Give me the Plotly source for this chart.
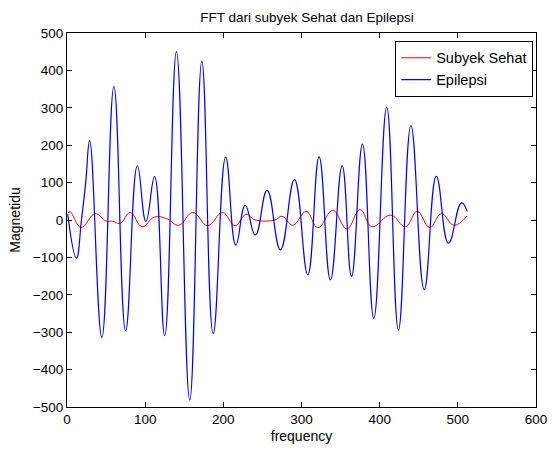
import plotly.graph_objects as go

# Epilepsi (blue) - extrema
epi_x = [1, 12, 18.5, 24, 29, 44.6, 60, 75, 90, 101, 112, 125, 140, 157, 172.5, 187, 203, 216, 228, 241, 256, 273, 291, 308, 322.5, 337, 352, 364, 378, 392.5, 409, 424, 440, 457, 472.5, 488, 504.6, 512]
epi_y = [15, -102, 0, 102, 212, -314, 357, -296, 145, -4, 116, -309, 450, -482, 424, -304, 168, -67, 39, -40, 79, -80, 108, -146, 169, -160, 145, -151, 203, -263, 302, -294, 252, -186, 117, -62, 46, 23]

# Subyek Sehat (red)
seh_x = [1, 4, 18, 36, 50, 58, 68, 81, 96, 112, 127, 143, 161, 180, 199, 215, 229, 241, 266, 275, 289, 306, 321, 340, 358, 375, 390, 414, 433, 448, 464, 479, 495, 512]
seh_y = [18, 22, -20, 17, -3, -3, -9, 20, -18, 8, 4, -14, 20, -15, 20, -15, 15, 0, 0, 10, -14, 23, -21, 26, -24, 28, -18, 13, -18, 23, -20, 17, -14, 11]

fig = go.Figure()
fig.add_trace(go.Scatter(x=seh_x, y=seh_y, mode="lines", name="Subyek Sehat",
                         line=dict(color="#ff0000", width=1, shape="spline", smoothing=1.2)))
fig.add_trace(go.Scatter(x=epi_x, y=epi_y, mode="lines", name="Epilepsi",
                         line=dict(color="#0000ff", width=1.2, shape="spline", smoothing=1.3)))

font = "Liberation Sans, Arial, sans-serif"
axis_common = dict(showgrid=False, zeroline=False, showline=True, linecolor="black", linewidth=1,
                   mirror="ticks", ticks="inside", ticklen=5, tickcolor="black",
                   tickfont=dict(family=font, size=13.5, color="black"))
fig.update_layout(
    width=559, height=453,
    margin=dict(l=67, r=12, t=33, b=43),
    paper_bgcolor="white", plot_bgcolor="white",
    title=dict(text="FFT dari subyek Sehat dan Epilepsi", x=(67 + 547) / 2 / 559, xanchor="center",
               y=1 - 17 / 453, yanchor="middle", font=dict(family=font, size=13.5, color="black")),
    xaxis=dict(range=[0, 600], tickvals=[0, 100, 200, 300, 400, 500, 600],
               title=dict(text="frequency", font=dict(family=font, size=14, color="black"), standoff=4),
               **axis_common),
    yaxis=dict(range=[-500, 500], tickvals=list(range(-500, 501, 100)),
               title=dict(text="Magnetidu", font=dict(family=font, size=14, color="black"), standoff=8),
               **axis_common),
    legend=dict(x=0.994, y=0.979, xanchor="right", yanchor="top", bgcolor="white",
                bordercolor="black", borderwidth=1, font=dict(family=font, size=14.5, color="black"),
                tracegroupgap=0),
    showlegend=True,
)
fig.write_html("out.html")
